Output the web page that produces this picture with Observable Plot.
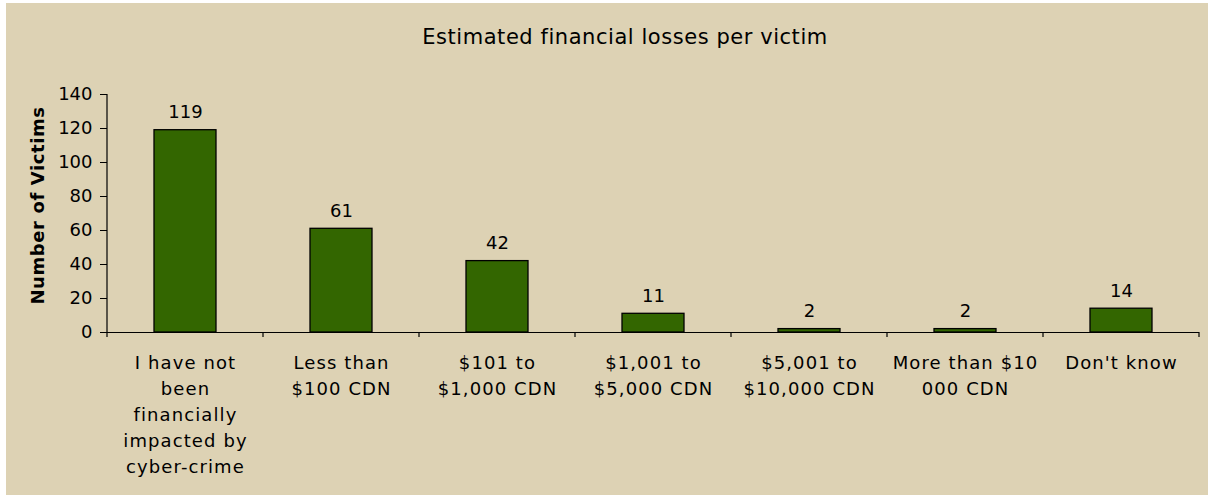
<!DOCTYPE html>
<html><head><meta charset="utf-8">
<script src="https://cdn.jsdelivr.net/npm/d3@7"></script>
<script src="https://cdn.jsdelivr.net/npm/@observablehq/plot@0.6"></script>
<style>
html,body{margin:0;padding:0;background:#fff;}
#wrap{position:relative;width:1208px;height:495px;overflow:hidden;}
#bg{position:absolute;left:6px;top:3px;right:0;bottom:0;background:#ddd2b4;}
#title{position:absolute;left:21px;width:1208px;top:25px;text-align:center;font:21px "DejaVu Sans", Verdana, sans-serif;letter-spacing:0.55px;color:#000;line-height:24px;white-space:nowrap;}
#chart{position:absolute;left:0;top:0;}
</style></head><body>
<div id="wrap"><div id="bg"></div><div id="title">Estimated financial losses per victim</div><div id="chart"></div></div>
<script>
const categories = [
  "I have not been financially impacted by cyber-crime",
  "Less than $100 CDN",
  "$101 to $1,000 CDN",
  "$1,001 to $5,000 CDN",
  "$5,001 to $10,000 CDN",
  "More than $10 000 CDN",
  "Don't know"
];
const values = [119, 61, 42, 11, 2, 2, 14];
const tickLabels = [
  "I have not\nbeen\nfinancially\nimpacted by\ncyber-crime",
  "Less than\n$100 CDN",
  "$101 to\n$1,000 CDN",
  "$1,001 to\n$5,000 CDN",
  "$5,001 to\n$10,000 CDN",
  "More than $10\n000 CDN",
  "Don't know"
];
const yTicks = [0, 20, 40, 60, 80, 100, 120, 140];
const yLabel = "Number of Victims";

const data = categories.map((c, i) => ({category: c, value: values[i], label: tickLabels[i]}));
const font = '"DejaVu Sans", Verdana, sans-serif';

const plot = Plot.plot({
  width: 1208, height: 495,
  marginLeft: 107, marginRight: 9, marginTop: 94, marginBottom: 163,
  style: {background: "transparent", fontFamily: font, fontSize: "18px", color: "#000", overflow: "visible"},
  x: {domain: categories, paddingInner: 0.6, paddingOuter: 0.3, axis: null},
  y: {domain: [0, 140], axis: null},
  marks: [
    Plot.barY(data, {x: "category", y: "value", fill: "#336600", stroke: "#000", strokeWidth: 1.3}),
    Plot.ruleY([0], {stroke: "#000", strokeWidth: 1.2}),
    Plot.axisY(yTicks, {tickSize: 7, tickPadding: 8, fontSize: 18, stroke: "#000", fill: "#000", label: null}),
    Plot.text(data, {x: "category", y: "value", text: d => String(d.value), dy: -12, lineAnchor: "bottom", fontSize: 18, fill: "#000"}),
    Plot.text(data, {x: "category", text: "label", frameAnchor: "bottom", dy: 18, lineAnchor: "top", lineHeight: 1.44, fontSize: 18, fill: "#000"}),
    Plot.text([yLabel], {frameAnchor: "left", textAnchor: "middle", rotate: -90, dx: -69, dy: -8, fontWeight: "bold", fontSize: 18, fill: "#000"})
  ]
});

// letter spacing for the category labels and the y label (as in the reference)
const textGroups = d3.select(plot).selectAll("g[aria-label='text']").nodes();
if (textGroups[1]) d3.select(textGroups[1]).style("letter-spacing", "1.1px");
if (textGroups[2]) d3.select(textGroups[2]).style("letter-spacing", "0.6px");

// category boundary ticks on the x axis and the y axis line, from the plot's own scales
const xs = plot.scale("x"), ys = plot.scale("y");
const step = xs.step ?? xs.bandwidth / 0.4;
const gap = (step - xs.bandwidth) / 2;
const bounds = categories.map(c => xs.apply(c) - gap).concat([xs.apply(categories[categories.length - 1]) + xs.bandwidth + gap]);
const y0 = ys.apply(0), yTop = ys.apply(140);
const g = d3.select(plot).append("g").attr("stroke", "#000").attr("stroke-width", 1.2);
g.selectAll("line.xt").data(bounds).join("line").attr("class", "xt")
  .attr("x1", d => d).attr("x2", d => d).attr("y1", y0).attr("y2", y0 + 5);
g.append("line").attr("x1", bounds[0]).attr("x2", bounds[0]).attr("y1", yTop).attr("y2", y0);

document.getElementById("chart").appendChild(plot);
</script>
</body></html>
